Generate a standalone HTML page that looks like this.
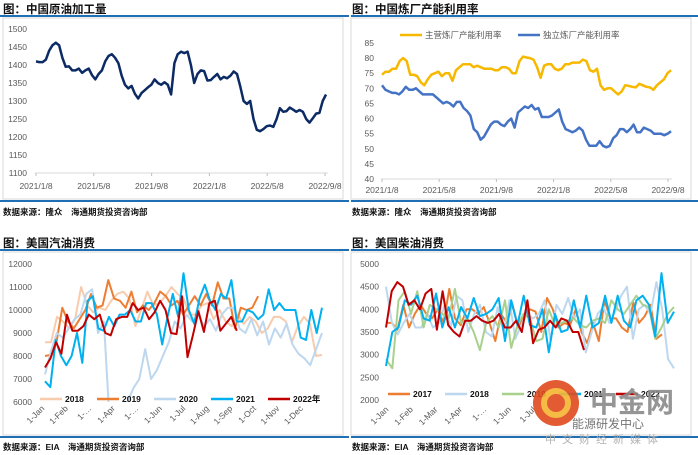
<!DOCTYPE html>
<html><head><meta charset="utf-8"><style>
body{margin:0;background:#fff;}
svg{display:block;font-family:"Liberation Sans","Noto Sans CJK SC",sans-serif;}
</style></head><body>
<svg id="s" width="698" height="455" viewBox="0 0 698 455" xmlns="http://www.w3.org/2000/svg">
<g>
<rect x="3" y="18" width="340" height="181" fill="none" stroke="#d9d9d9"/>
<rect x="351" y="18" width="340" height="181" fill="none" stroke="#d9d9d9"/>
<rect x="3" y="252" width="340" height="183" fill="none" stroke="#d9d9d9"/>
<rect x="351" y="252" width="340" height="183" fill="none" stroke="#d9d9d9"/>
<line x1="0" y1="16" x2="349" y2="16" stroke="#1f6fb5" stroke-width="2"/>
<line x1="351" y1="16" x2="698" y2="16" stroke="#1f6fb5" stroke-width="2"/>
<line x1="0" y1="201" x2="349" y2="201" stroke="#1f6fb5" stroke-width="2"/>
<line x1="351" y1="201" x2="698" y2="201" stroke="#1f6fb5" stroke-width="2"/>
<line x1="0" y1="250" x2="349" y2="250" stroke="#1f6fb5" stroke-width="2"/>
<line x1="351" y1="250" x2="698" y2="250" stroke="#1f6fb5" stroke-width="2"/>
<line x1="0" y1="437" x2="349" y2="437" stroke="#1f6fb5" stroke-width="2"/>
<line x1="351" y1="437" x2="698" y2="437" stroke="#1f6fb5" stroke-width="2"/>
</g>
<g font-weight="bold" font-size="11.5" fill="#111">
<text x="3" y="13">图：中国原油加工量</text>
<text x="352" y="13">图：中国炼厂产能利用率</text>
<text x="3" y="247">图：美国汽油消费</text>
<text x="352" y="247">图：美国柴油消费</text>
</g>
<g font-weight="bold" font-size="8.5" fill="#111">
<text x="3" y="215">数据来源：隆众　海通期货投资咨询部</text>
<text x="352" y="215">数据来源：隆众　海通期货投资咨询部</text>
<text x="3" y="450">数据来源：EIA　海通期货投资咨询部</text>
<text x="352" y="450">数据来源：EIA　海通期货投资咨询部</text>
</g>
<g id="charts"></g>
<g opacity="0.9">
<circle cx="556" cy="403" r="23" fill="#e04a1c"/>
<circle cx="556" cy="403" r="12" fill="none" stroke="#f6b431" stroke-width="6"/>
<text x="590" y="412" font-size="28" font-weight="bold" fill="#8a8a8a">中金网</text>
<text x="572" y="428" font-size="12" fill="#666">能源研发中心</text>
<text x="545" y="443" font-size="11" fill="#aaa" letter-spacing="6">中文财经新媒体</text>
</g>
</svg>
<script>
// ---- Chart 1 data: China crude runs (weekly, 2021/1/8 - 2022/9) ----
var c1Values=[1410,1408,1408,1415,1440,1455,1462,1455,1420,1395,1396,1385,1385,1390,1378,1385,1390,1372,1360,1375,1385,1410,1425,1430,1420,1405,1370,1345,1335,1342,1320,1307,1322,1330,1338,1345,1360,1350,1345,1352,1345,1318,1405,1430,1437,1433,1437,1400,1350,1375,1385,1383,1357,1358,1367,1375,1360,1367,1363,1370,1382,1375,1340,1300,1292,1300,1250,1220,1216,1222,1230,1232,1228,1250,1280,1270,1272,1282,1276,1270,1275,1270,1250,1240,1252,1265,1267,1300,1318];
var c1YTicks=[1100,1150,1200,1250,1300,1350,1400,1450,1500];
var c1XLabels=["2021/1/8","2021/5/8","2021/9/8","2022/1/8","2022/5/8","2022/9/8"];
// ---- Chart 2 data: refinery utilization ----
var c2Major=[74.5,75.5,75.5,76.5,76.5,79,80,79,74.5,74.5,74,72,71,73,74.5,75,75.5,74,75,75,72.5,76,77,78,78,78,77,77.5,77,76.5,76.5,76.5,76,76,77,77,76.5,75,75,79,80.5,80.2,80,79.5,77,73.5,77.5,78,78,76.5,76,76.5,78,78,78.5,78.5,78.5,79.5,79,76,75.5,76.5,71,69.5,70,70,69,68,69,71,70.8,70.5,70.3,71.5,71,70.5,70.3,69.5,71,72,73,75,76];
var c2Indep=[71,69.5,69,68.5,68.5,68,69,70.5,69.5,69.5,70,69,68,68,68,68,67,66,65,65.5,65,64,65.5,65.5,63.5,62.5,61,56.5,55.5,53,54,56,58,59,59,58,57.5,59,60,57,62,63,64,63.5,64.5,63,63.5,60.5,60.5,60.5,61,62,63,59,56.5,56,55.5,56,57,56,53,51,51,51,52.5,51,50.5,51,53.5,54.5,56.5,56.5,55.5,56.5,58,55.5,55.5,57,56.5,56,55,55,55,54.5,55,55.8];
var c2YTicks=[40,45,50,55,60,65,70,75,80,85];
var c2XLabels=["2021/1/8","2021/5/8","2021/9/8","2022/1/8","2022/5/8","2022/9/8"];
var c2Names=["主营炼厂产能利用率","独立炼厂产能利用率"];
// ---- Chart 3 data: US gasoline ----
var c3Names=["2018","2019","2020","2021","2022年"];
var c3S2018=[8600,8600,9700,9500,9200,9600,11000,10200,9900,10100,10000,10400,10700,10800,10500,9300,10000,10800,10200,10300,10600,11000,10700,10500,9800,9800,10200,10300,9600,10000,9500,9300,9800,9400,9700,9500,9000,9200,9700,9700,9500,8600,9300,9700,9400,8000,8050];
var c3S2019=[8000,8050,8600,10100,9500,9200,9600,10000,10700,10100,10200,11300,10500,10400,10100,10800,9900,10200,10000,10300,10800,10600,10200,10400,9800,10200,10600,10200,10700,10200,11200,10500,10500,9200,10100,10000,10100,10600];
var c3S2020=[7200,8200,9000,8800,9200,9600,9800,10700,10900,9000,9500,5000,5000,5000,6000,6600,7000,8300,7000,7400,8000,8600,9500,9200,9800,9500,9800,9300,9600,9100,9800,10100,10100,9200,9000,9600,8900,9500,8500,9200,8800,9400,8500,8100,7900,7600,8300,9000];
var c3S2021=[6900,6650,8700,8000,7600,8000,9000,7700,10400,10600,9200,9100,9700,9300,9800,9800,10000,9500,9500,10300,10300,9800,8500,9700,10700,9700,11600,10000,9400,10500,11100,10400,10000,10700,10500,11300,9500,9500,10000,9900,9600,9800,10900,10000,10300,10000,10000,10000,8800,8700,10000,9000,10100];
var c3S2022=[7500,7900,8600,8100,9800,9100,9100,9300,9800,9600,9800,9000,8900,9600,9700,9700,10300,10000,10100,9600,9900,10400,10000,9000,8950,10600,7950,8900,9950,9050,10300,10400,9100,9400,9700,9100];
var c3YTicks=[6000,7000,8000,9000,10000,11000,12000];
var c3XLabels=["1-Jan","1-Feb","1-…","1-Apr","1-…","1-Jun","1-Jul","1-Aug","1-Sep","1-Oct","1-Nov","1-Dec"];
// ---- Chart 4 data: US diesel ----
var c4Names=["2017","2018","2019","2021","2022"];
var c4S2017=[3700,3700,3550,4100,3600,3900,4100,3900,3800,4000,3700,4450,3800,3650,4000,4000,3900,4050,3700,3300,3900,3700,4100,3600,3900,4000,3950,3500,4250,4000,3600,3700,3650,4000,3500,3250,3700,3300,4200,3800,3800,3600,3500,4150,3700,3850,4100,3350,3450];
var c4S2018=[4500,3700,3450,3700,3900,3600,3600,3900,3600,3700,4100,3600,4300,4200,3500,3900,4100,3500,3400,4050,3500,4200,3350,3650,3900,3800,3900,4200,3300,4100,3900,4250,3800,4000,3050,3500,3900,4050,3700,3950,4300,4500,3350,4000,4100,3900,4600,4000,2900,2700];
var c4S2019=[2900,2700,4200,4400,3900,4400,3600,4100,4000,3900,3800,4450,3700,3800,3500,3100,3700,3850,3600,4200,3150,3650,3900,3800,3300,3350,4000,3650,3700,3750,3800,3650,3600,3750,3800,3700,4200,4000,3900,4100,4300,4100,4050,3350,3600,3900,4050];
var c4S2021=[2750,3500,3600,4200,4100,4300,3800,3750,4350,3600,4050,3600,4050,3800,4250,3850,3900,4000,4250,3300,4200,3650,4300,3650,3600,4000,3050,3900,3500,3550,4200,3600,4300,3600,3700,4300,3700,4300,3750,3600,4200,4300,4100,3400,4800,3700,3950];
var c4S2022=[3600,4400,4600,4500,4100,4200,4000,4350,4450,3550,4400,3650,3500,3400,3750,3750,3850,3750,3700,3750,3900,3600,3600,3750,3500,4200,3250,3550,3600,3750,3600,3800,3750,3500,3500,3100];
var c4YTicks=[2000,2500,3000,3500,4000,4500,5000];
var c4XLabels=["1-Jan","1-Feb","1-Mar","1-Apr","1-…","1-Jun","1-Jul"];

var NS="http://www.w3.org/2000/svg";
var root=document.getElementById('charts');
function el(tag,attrs,parent){var e=document.createElementNS(NS,tag);for(var k in attrs)e.setAttribute(k,attrs[k]);(parent||root).appendChild(e);return e;}
function yScale(min,max,top,bot){return function(v){return bot-(v-min)/(max-min)*(bot-top);};}
function xIndex(x0,x1,n){return function(i){return x0+i/(n-1)*(x1-x0);};}
function series(vals,xs,ys,color,w,name,clipId){
  var d=vals.map(function(v,i){return (i?'L':'M')+xs(i).toFixed(1)+','+ys(v).toFixed(1);}).join('');
  var p=el('path',{d:d,fill:'none',stroke:color,'stroke-width':w,'stroke-linejoin':'round'});
  if(clipId)p.setAttribute('clip-path','url(#'+clipId+')');
  
  
  return p;
}
function yAxis(ticks,ys,x,cls){
  ticks.forEach(function(t){var tx=el('text',{x:x,y:ys(t)+3,'font-size':'8.5',fill:'#595959','text-anchor':'end'});tx.textContent=t;
  
  });
}
function legendItem(x,y,color,label,w,bold){
  var l=el('line',{x1:x,y1:y,x2:x+22,y2:y,stroke:color,'stroke-width':w});
  
  
  var t=el('text',{x:x+25,y:y+3,'font-size':'8.5',fill:bold?'#111':'#595959','font-weight':bold?'bold':'normal'});t.textContent=label;
  
  
}
var defs=el('defs',{});
el('rect',{x:40,y:260,width:290,height:142},el('clipPath',{id:'cp3'},defs));
el('rect',{x:380,y:260,width:300,height:140},el('clipPath',{id:'cp4'},defs));

// Chart 1
(function(){
  var ys=yScale(1100,1500,29,173),xs=xIndex(36,326,c1Values.length);
  yAxis(c1YTicks,ys,27,'c1-y');
  var ax=el('line',{x1:35,y1:173,x2:328,y2:173,stroke:'#d9d9d9'});
  
  
  c1XLabels.forEach(function(l,i){var x=36+i*(325-36)/5;el('line',{x1:x,y1:173,x2:x,y2:176,stroke:'#bfbfbf'});
    var t=el('text',{x:x,y:189,'font-size':'8.5',fill:'#595959','text-anchor':'middle'});t.textContent=l;
    
    });
  series(c1Values,xs,ys,'#0c2a63',2.5,'crude-runs-line');
})();
// Chart 2
(function(){
  var ys=yScale(40,85,43,179),x0=382,x1=671;
  yAxis(c2YTicks,ys,374,'c2-y');
  el('line',{x1:381,y1:179,x2:672,y2:179,stroke:'#d9d9d9'});
  c2XLabels.forEach(function(l,i){var x=382+i*(668-382)/5;el('line',{x1:x,y1:179,x2:x,y2:182,stroke:'#bfbfbf'});
    var t=el('text',{x:x,y:193,'font-size':'8.5',fill:'#595959','text-anchor':'middle'});t.textContent=l;
    
    });
  series(c2Major,xIndex(x0,x1,c2Major.length),ys,'#f7b800',2.5,'major-refinery-line');
  series(c2Indep,xIndex(x0,x1,c2Indep.length),ys,'#4472c4',2.5,'independent-refinery-line');
  legendItem(400,35,'#f7b800',c2Names[0],2.5,false);
  legendItem(518,35,'#4472c4',c2Names[1],2.5,false);
})();
// Chart 3
(function(){
  var ys=yScale(6000,12000,264,402),x0=45,x1=322;
  yAxis(c3YTicks,ys,32,'c3-y');
  c3XLabels.forEach(function(l,i){var x=45+i*23.5;
    var t=el('text',{x:x,y:409,'font-size':'8.5',fill:'#595959','text-anchor':'end',transform:'rotate(-45 '+x+' 409)'});t.textContent=l;
    
    });
  var wk=(x1-x0)/52;
  var sets=[[c3S2018,'#f8cbad',x1,'gasoline-2018-line'],[c3S2019,'#ed7d31',x0+40*wk,'gasoline-2019-line'],[c3S2020,'#bdd7ee',x1,'gasoline-2020-line'],[c3S2021,'#00b0f0',x1,'gasoline-2021-line'],[c3S2022,'#c00000',x0+36*wk,'gasoline-2022-line']];
  sets.forEach(function(s){series(s[0],xIndex(x0,s[2],s[0].length),ys,s[1],2,s[3],'cp3');});
  var cols=['#f8cbad','#ed7d31','#bdd7ee','#00b0f0','#c00000'];
  c3Names.forEach(function(n,i){legendItem(40+i*57,399,cols[i],n,2.5,true);});
})();
// Chart 4
(function(){
  var ys=yScale(2000,5000,264,400),x0=386,x1=674;
  yAxis(c4YTicks,ys,379,'c4-y');
  c4XLabels.forEach(function(l,i){var x=389+i*24.5;
    var t=el('text',{x:x,y:410,'font-size':'8.5',fill:'#595959','text-anchor':'end',transform:'rotate(-45 '+x+' 410)'});t.textContent=l;
    
    });
  var sets=[[c4S2017,'#ed7d31',662,'diesel-2017-line'],[c4S2018,'#bdd7ee',x1,'diesel-2018-line'],[c4S2019,'#a9d18e',x1,'diesel-2019-line'],[c4S2021,'#00b0f0',x1,'diesel-2021-line'],[c4S2022,'#c00000',584,'diesel-2022-line']];
  sets.forEach(function(s){series(s[0],xIndex(x0,s[2],s[0].length),ys,s[1],2,s[3],'cp4');});
  var cols=['#ed7d31','#bdd7ee','#a9d18e','#00b0f0','#c00000'];
  c4Names.forEach(function(n,i){legendItem(388+i*57,394,cols[i],n,2.5,true);});
})();
</script>
</body></html>
